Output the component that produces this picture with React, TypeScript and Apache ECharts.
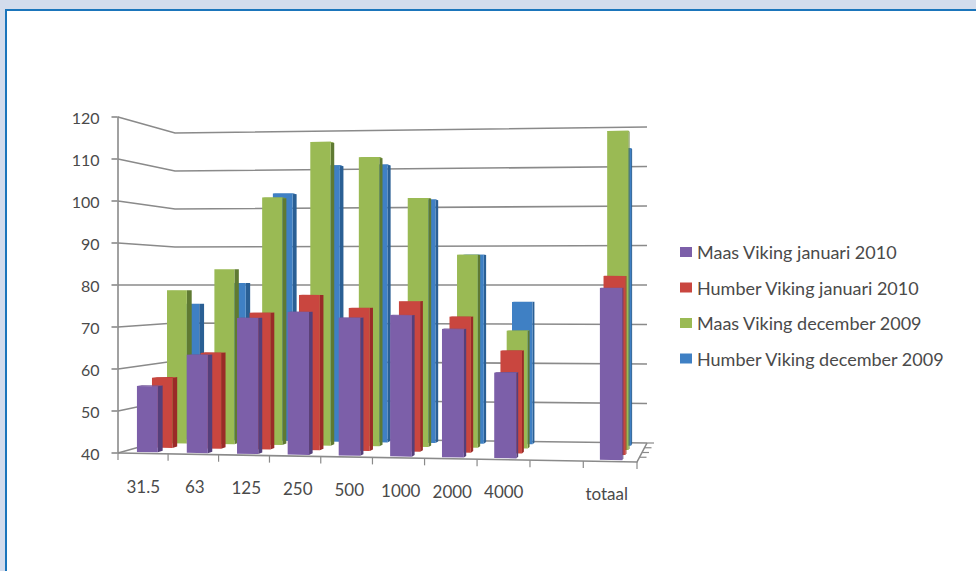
import React, { useEffect, useRef } from "react";
import * as echarts from "echarts";

const categories = ["31.5", "63", "125", "250", "500", "1000", "2000", "4000", "", "totaal"];
const yTicks = [40, 50, 60, 70, 80, 90, 100, 110, 120];
const maasJan2010 = [55.8, 63.4, 72.3, 73.8, 72.5, 73.2, 70, 59.9, null, 79.8];
const humberJan2010 = [57.2, 63.4, 73.3, 77.7, 74.6, 76.3, 72.6, 64.5, null, 82.5];
const maasDec2009 = [78.7, 84, 102, 115.8, 111.9, 101.7, 87.6, 68.9, null, 117.8];
const humberDec2009 = [75.1, 80.5, 103.5, 110.6, 110.7, 101.7, 87.7, 75.8, null, 114.2];
const labelDrop = [0, 0, 1, 2, 3, 4, 5, 5, 0, 7];

const W = 976;
const H = 571;
const FL = 117.5;
const FW = 515;
const FT = 117;
const FH = 336;
const FB = FT + FH;
const BAR_HALF = 0.021;
const BAR_DEPTH = 0.09;
const FONT = "Lato";
const TEXT = "#4a4a4a";
const LINE = "#8a8a8a";

const lerp = (a: number, b: number, k: number) => a + (b - a) * k;

// Perspective of the box: u along the category axis, d into the depth, t up the value axis.
function projectUDT(u: number, d: number, t: number): number[] {
  const w = u - (20 / 515) * u * (1 - u);
  const x = lerp(118 + 519 * w, 175 + 472 * w, d);
  const y0 = lerp(453 + 9 * w, 437 + 6 * w, d);
  const h = lerp(336 + 13 * w, 304 + 12 * w, d);
  return [x, y0 - t * h];
}

const uOf = (fx: number) => (fx - FL) / FW;
const tOf = (fy: number) => (FB - fy) / FH;

function barSeries(name: string, values: (number | null)[], d: number, face: string, side: string, top: string) {
  return {
    type: "custom",
    name,
    coordinateSystem: "cartesian2d",
    clip: false,
    itemStyle: { color: face },
    encode: { x: 0, y: 1 },
    data: values.map((v, i) => [i, v]).filter((p) => p[1] !== null),
    renderItem: (_: any, api: any) => {
      const p = api.coord([api.value(0), api.value(1)]);
      const u = uOf(p[0]);
      const t = tOf(p[1]);
      const a = u - BAR_HALF;
      const b = u + BAR_HALF;
      const e = d + BAR_DEPTH;
      return {
        type: "group",
        children: [
          {
            type: "polygon",
            shape: { points: [projectUDT(b, d, 0), projectUDT(b, e, 0), projectUDT(b, e, t), projectUDT(b, d, t)] },
            style: { fill: side },
          },
          {
            type: "polygon",
            shape: { points: [projectUDT(a, d, t), projectUDT(b, d, t), projectUDT(b, e, t), projectUDT(a, e, t)] },
            style: { fill: top },
          },
          {
            type: "polygon",
            shape: { points: [projectUDT(a, d, 0), projectUDT(b, d, 0), projectUDT(b, d, t), projectUDT(a, d, t)] },
            style: { fill: face },
          },
        ],
      };
    },
  };
}

const wallSeries = {
  type: "custom",
  coordinateSystem: "cartesian2d",
  clip: false,
  silent: true,
  encode: { x: 0, y: 1 },
  data: yTicks.map((v) => [0, v]),
  renderItem: (_: any, api: any) => {
    const t = tOf(api.coord([0, api.value(1)])[1]);
    return {
      type: "polyline",
      shape: { points: [projectUDT(0, 0, t), projectUDT(0, 1, t), projectUDT(1, 1, t)] },
      style: { stroke: LINE, lineWidth: 1.6, fill: "none" },
    };
  },
};

const floorSeries = {
  type: "custom",
  coordinateSystem: "cartesian2d",
  clip: false,
  silent: true,
  encode: { x: 0, y: 1 },
  data: [[0, 40]],
  renderItem: () => {
    const kids: any[] = [
      {
        type: "polyline",
        shape: { points: [projectUDT(0, 0, 0), projectUDT(1, 0, 0), projectUDT(1, 1, 0)] },
        style: { stroke: LINE, lineWidth: 1.6, fill: "none" },
      },
    ];
    for (let i = 0; i <= 10; i++) {
      const p = projectUDT(i / 10, 0, 0);
      kids.push({
        type: "line",
        shape: { x1: p[0], y1: p[1], x2: p[0], y2: p[1] + 7 },
        style: { stroke: LINE, lineWidth: 1.2 },
      });
    }
    for (let i = 1; i <= 4; i++) {
      const p = projectUDT(1, i / 4, 0);
      kids.push({
        type: "line",
        shape: { x1: p[0], y1: p[1], x2: p[0] + 7, y2: p[1] },
        style: { stroke: LINE, lineWidth: 1.2 },
      });
    }
    return { type: "group", children: kids };
  },
};

const rich: Record<string, any> = {};
labelDrop.forEach((off, i) => {
  rich["l" + i] = { padding: [off, 0, 0, 0], fontFamily: FONT, fontSize: 17, color: TEXT };
});

const legendNames = [
  "Maas Viking januari 2010",
  "Humber Viking januari 2010",
  "Maas Viking december 2009",
  "Humber Viking december 2009",
];

export default function App() {
  const ref = useRef<HTMLDivElement>(null);
  useEffect(() => {
    const chart = echarts.init(ref.current!, null, { renderer: "svg" });
    chart.setOption({
      animation: false,
      backgroundColor: "#d3dcec",
      graphic: [
        { type: "rect", z: -10, silent: true, shape: { x: 5, y: 9, width: W, height: H }, style: { fill: "#1b75bb" } },
        { type: "rect", z: -9, silent: true, shape: { x: 7, y: 11, width: W, height: H }, style: { fill: "#ffffff" } },
      ],
      grid: { left: FL, top: FT, width: FW, height: FH, containLabel: false },
      legend: {
        orient: "vertical",
        left: 675,
        top: 238,
        icon: "rect",
        itemWidth: 12,
        itemHeight: 10,
        itemGap: 17.5,
        data: legendNames,
        selectedMode: false,
        textStyle: { fontFamily: FONT, fontSize: 18, color: TEXT, padding: [0, 0, 0, 0] },
      },
      xAxis: {
        type: "category",
        data: categories,
        axisLine: { show: false },
        axisTick: { show: false },
        splitLine: { show: false },
        axisLabel: {
          interval: 0,
          margin: 25,
          verticalAlign: "top",
          fontFamily: FONT,
          fontSize: 17,
          color: TEXT,
          rich,
          formatter: (v: string, i: number) => (v ? `{l${i}|${v}}` : ""),
        },
      },
      yAxis: {
        type: "value",
        min: 40,
        max: 120,
        interval: 10,
        position: "left",
        axisLine: { show: true, lineStyle: { color: LINE, width: 1.6 } },
        axisTick: { show: true, length: 6, lineStyle: { color: LINE, width: 1.6 } },
        splitLine: { show: false },
        axisLabel: { margin: 18, fontFamily: FONT, fontSize: 16, color: TEXT },
      },
      series: [
        wallSeries,
        floorSeries,
        barSeries(legendNames[3], humberDec2009, 0.85, "#3f80c4", "#2a5f94", "#3a78b8"),
        barSeries(legendNames[2], maasDec2009, 0.62, "#9aba54", "#5f7a32", "#8fae4c"),
        barSeries(legendNames[1], humberJan2010, 0.35, "#c9463f", "#9a2b27", "#bd3f38"),
        barSeries(legendNames[0], maasJan2010, 0.08, "#7c5fa9", "#553f7a", "#735799"),
      ],
    });
    return () => chart.dispose();
  }, []);
  return <div ref={ref} style={{ position: "fixed", left: 0, top: 0, width: W, height: H }} />;
}
